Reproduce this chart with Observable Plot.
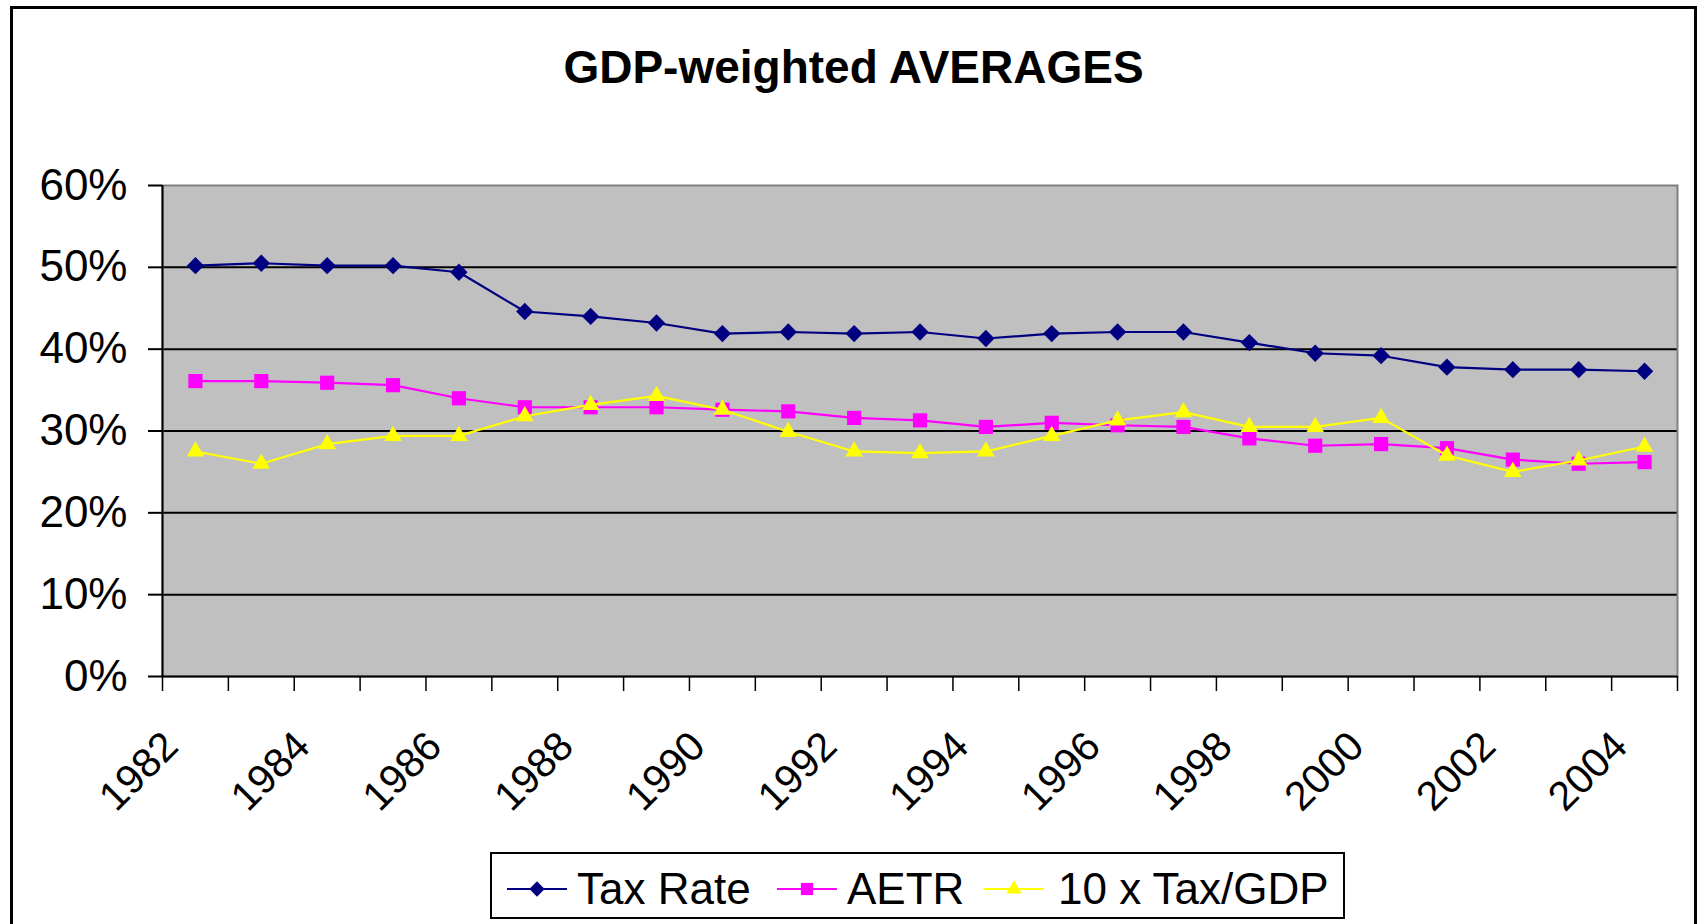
<!DOCTYPE html>
<html>
<head>
<meta charset="utf-8">
<script src="https://cdn.jsdelivr.net/npm/d3@7"></script>
<script src="https://cdn.jsdelivr.net/npm/@observablehq/plot@0.6"></script>
<style>
  html, body { margin: 0; padding: 0; background: #fff; }
  body { font-family: "Liberation Sans", Arial, sans-serif; }
  #wrap { position: relative; width: 1698px; height: 924px; overflow: hidden; }
  #frame { position: absolute; left: 10px; top: 6px; width: 1687px; height: 1000px; border: 3px solid #000; box-sizing: border-box; }
  #title { position: absolute; left: 10px; top: 44px; width: 1687px; text-align: center; font-weight: bold; font-size: 46px; line-height: 46px; color: #000; }
  #chart { position: absolute; left: 0; top: 120px; }
  #legend { position: absolute; left: 490px; top: 852px; width: 855px; height: 67px; border: 2px solid #000; box-sizing: border-box; background: #fff; }
  .item { position: absolute; top: 0; height: 63px; }
  .item svg { position: absolute; top: 0; left: 0; }
  .item span { position: absolute; font-size: 44px; line-height: 44px; top: 13px; white-space: nowrap; color: #000; }
</style>
</head>
<body>
<div id="wrap">
  <div id="frame"></div>
  <div id="title">GDP-weighted AVERAGES</div>
  <div id="chart"></div>
  <div id="legend"></div>
</div>
<script>
// ---- data ----
const years = [1982, 1983, 1984, 1985, 1986, 1987, 1988, 1989, 1990, 1991, 1992, 1993,
               1994, 1995, 1996, 1997, 1998, 1999, 2000, 2001, 2002, 2003, 2004];
const taxRate = [50.2, 50.5, 50.2, 50.2, 49.4, 44.6, 44.0, 43.2, 41.9, 42.1, 41.9, 42.1,
                 41.3, 41.9, 42.1, 42.1, 40.8, 39.5, 39.2, 37.8, 37.5, 37.5, 37.3];
const aetr = [36.1, 36.1, 35.9, 35.6, 34.0, 32.9, 32.9, 32.9, 32.6, 32.4, 31.6, 31.3,
              30.5, 31.0, 30.7, 30.5, 29.1, 28.2, 28.4, 27.9, 26.5, 26.0, 26.2];
const taxGdp10 = [27.5, 26.0, 28.4, 29.4, 29.4, 31.8, 33.2, 34.3, 32.6, 29.9, 27.5, 27.3,
                  27.5, 29.4, 31.3, 32.3, 30.5, 30.5, 31.6, 27.0, 25.0, 26.4, 28.1];
const yTicks = [0, 10, 20, 30, 40, 50, 60];
const seriesNames = ["Tax Rate", "AETR", "10 x Tax/GDP"];
const seriesColors = ["#000080", "#FF00FF", "#FFFF00"];
const seriesSymbols = ["diamond2", "square", "triangle2"];

// ---- derived ----
const seriesValues = [taxRate, aetr, taxGdp10];
const seriesData = seriesValues.map((vals, s) => years.map((year, i) => ({year, value: vals[i], series: seriesNames[s]})));
const boundaries = years.map(y => y - 0.5).concat([years[years.length - 1] + 0.5]);
const labelYears = years.filter((d, i) => i % 2 === 0);
const dotR = [7.8, 8.0, 8.4];

const marks = [
  Plot.frame({fill: "#c0c0c0", stroke: "none"}),
  Plot.gridY(yTicks.slice(1, -1), {stroke: "#000", strokeOpacity: 1, strokeWidth: 2}),
  Plot.frame({stroke: "#808080", strokeWidth: 2, fill: "none"}),
  Plot.ruleY([yTicks[0]], {stroke: "#000", strokeWidth: 2}),
  Plot.ruleX([boundaries[0]], {stroke: "#000", strokeWidth: 2}),
  Plot.axisY({ticks: yTicks, tickFormat: d => d + "%", tickSize: 14, tickPadding: 21, fontSize: 44, strokeWidth: 2, label: null}),
  Plot.axisX({ticks: boundaries, tickFormat: () => "", tickSize: 15, strokeWidth: 1.5, label: null}),
  Plot.axisX({ticks: labelYears, tickFormat: d => String(d), tickSize: 0, tickPadding: 72,
              tickRotate: -45, textAnchor: "end", lineAnchor: "bottom", dx: -15, fontSize: 41, label: null})
];
seriesData.forEach((data, s) => {
  marks.push(Plot.line(data, {x: "year", y: "value", stroke: seriesColors[s], strokeWidth: 2.2}));
  marks.push(Plot.dot(data, {x: "year", y: "value", symbol: () => seriesSymbols[s], r: dotR[s], fill: seriesColors[s], stroke: "none"}));
});

const chart = Plot.plot({
  width: 1698,
  height: 700,
  marginLeft: 162,
  marginRight: 21,
  marginTop: 65,
  marginBottom: 144,
  style: {fontFamily: "'Liberation Sans', Arial, sans-serif", fontSize: "44px", color: "#000", background: "transparent", overflow: "visible"},
  x: {type: "linear", domain: [boundaries[0], boundaries[boundaries.length - 1]], label: null},
  y: {domain: [yTicks[0], yTicks[yTicks.length - 1]], label: null},
  symbol: {type: "identity"},
  marks
});
document.getElementById("chart").appendChild(chart);

// ---- legend ----
const legend = document.getElementById("legend");
const itemLeft = [14, 284, 491];   // swatch positions relative to legend box
const textLeft = [85, 355, 566];
const symSize = [150, 150, 175];
const symTypes = [d3.symbolDiamond2, d3.symbolSquare, d3.symbolTriangle2];
seriesNames.forEach((name, s) => {
  const item = document.createElement("div");
  item.className = "item";
  item.style.left = itemLeft[s] + "px";
  const svg = d3.create("svg").attr("width", 64).attr("height", 63);
  svg.append("line").attr("x1", 1).attr("x2", 61).attr("y1", 35).attr("y2", 35)
     .attr("stroke", seriesColors[s]).attr("stroke-width", 2);
  svg.append("path").attr("d", d3.symbol(symTypes[s], symSize[s])())
     .attr("transform", "translate(31,35)").attr("fill", seriesColors[s]);
  item.appendChild(svg.node());
  const span = document.createElement("span");
  span.textContent = name;
  span.style.left = (textLeft[s] - itemLeft[s]) + "px";
  item.appendChild(span);
  legend.appendChild(item);
});
</script>
</body>
</html>
